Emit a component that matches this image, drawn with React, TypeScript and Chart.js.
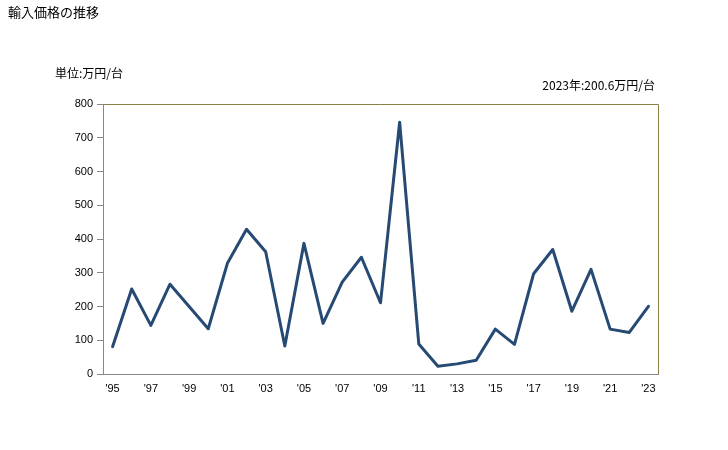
import React, { useEffect, useRef } from "react";
import { Chart, registerables } from "chart.js";

Chart.register(...registerables);

const years = ["'95","'96","'97","'98","'99","'00","'01","'02","'03","'04","'05","'06","'07","'08","'09","'10","'11","'12","'13","'14","'15","'16","'17","'18","'19","'20","'21","'22","'23"];
const prices = [81, 252, 144, 266, 200, 134, 328, 429, 362, 83, 387, 150, 272, 346, 211, 746, 89, 23, 30, 41, 133, 88, 297, 369, 186, 310, 133, 123, 200.6];
const yTicks = [0, 100, 200, 300, 400, 500, 600, 700, 800];
const titleText = "輸入価格の推移";
const unitText = "単位:万円/台";
const noteText = "2023年:200.6万円/台";

const FONT = "'Liberation Sans', 'Noto Sans CJK JP', sans-serif";

export default function App() {
  const ref = useRef<HTMLCanvasElement | null>(null);
  useEffect(() => {
    document.body.style.margin = "0";
    const textPlugin = {
      id: "texts",
      afterDraw(chart: any) {
        const ctx = chart.ctx;
        const a = chart.chartArea;
        ctx.save();
        ctx.strokeStyle = "#8c7f45";
        ctx.lineWidth = 1;
        ctx.beginPath();
        ctx.moveTo(a.left, a.top + 0.5);
        ctx.lineTo(a.right + 0.5, a.top + 0.5);
        ctx.lineTo(a.right + 0.5, a.bottom);
        ctx.stroke();
        ctx.fillStyle = "#000";
        ctx.textBaseline = "middle";
        ctx.font = "13px 'Noto Sans CJK JP', sans-serif";
        ctx.textAlign = "left";
        ctx.fillText(titleText, 8, 12);
        ctx.font = "12px 'Noto Sans CJK JP', sans-serif";
        ctx.fillText(unitText, 55, 73);
        ctx.textAlign = "right";
        ctx.fillText(noteText, 655, 85);
        ctx.restore();
      },
    };
    const chart = new Chart(ref.current!, {
      type: "line",
      data: {
        labels: years,
        datasets: [
          {
            data: prices,
            borderColor: "#264a73",
            borderWidth: 3,
            borderJoinStyle: "round",
            borderCapStyle: "round",
            pointRadius: 0,
            tension: 0,
            fill: false,
          },
        ],
      },
      options: {
        animation: false,
        responsive: false,
        layout: { padding: { top: 104, right: 70, left: 0, bottom: 0 } },
        plugins: { legend: { display: false }, tooltip: { enabled: false } },
        scales: {
          x: {
            offset: true,
            grid: { display: false, drawTicks: false },
            border: { display: true, color: "#888" },
            ticks: {
              autoSkip: false,
              maxRotation: 0,
              padding: 8,
              color: "#000",
              font: { size: 11, family: FONT },
              callback: (v: any, i: number) => (i % 2 === 0 ? years[i] : ""),
            },
            afterFit: (s: any) => {
              s.height = 76;
            },
          },
          y: {
            min: 0,
            max: 800,
            afterBuildTicks: (s: any) => {
              s.ticks = yTicks.map((v) => ({ value: v }));
            },
            grid: { drawOnChartArea: false, drawTicks: true, tickLength: 6, color: "#888" },
            border: { display: true, color: "#888" },
            ticks: {
              padding: 4,
              color: "#000",
              font: { size: 11, family: FONT },
            },
            afterFit: (s: any) => {
              s.width = 103;
            },
          },
        },
      },
      plugins: [textPlugin],
    });
    return () => chart.destroy();
  }, []);
  return <canvas ref={ref} width={728} height={450} style={{ display: "block" }} />;
}
